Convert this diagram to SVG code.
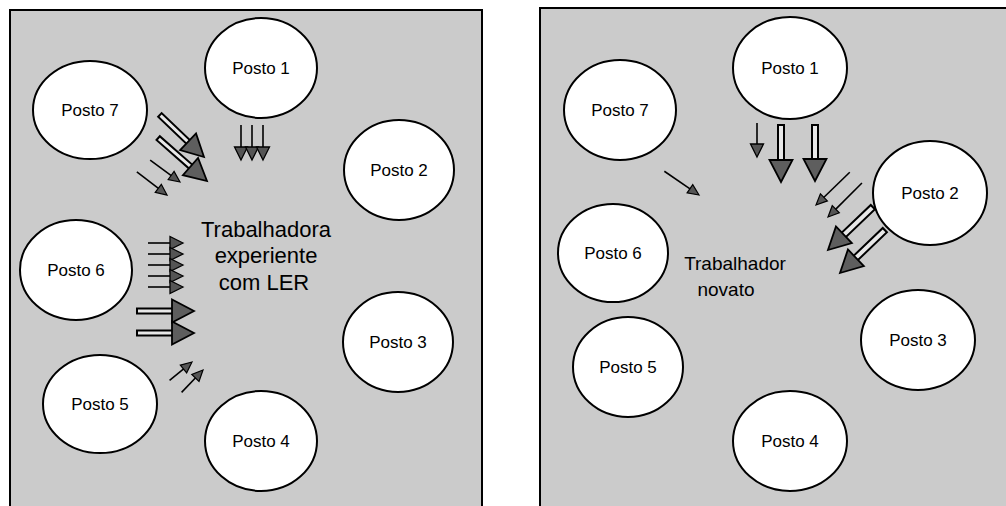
<svg xmlns="http://www.w3.org/2000/svg" width="1006" height="506" viewBox="0 0 1006 506">
  <style>
    .panel { fill: #cbcbcb; stroke: #000; stroke-width: 2; }
    .posto ellipse { fill: #fff; stroke: #000; stroke-width: 2; }
    .posto text { font-family: "Liberation Sans", Arial, sans-serif; font-size: 17px; text-anchor: middle; fill: #000; }
    .worker { font-family: "Liberation Sans", Arial, sans-serif; text-anchor: middle; fill: #000; }
    .shaft { stroke: #000; stroke-width: 1.6; fill: none; }
    .shaft-big { fill: #e8e8e8; stroke: #000; stroke-width: 2; }
  </style>
  <defs>
    <!-- arrowheads drawn pointing along +x, tip at the origin -->
    <polygon id="head-s" points="0,0 -11,-5 -11,5" fill="#555" stroke="#000" stroke-width="1.2"/>
    <polygon id="head-m" points="0,0 -13,-6.5 -13,6.5" fill="#555" stroke="#000" stroke-width="1.3"/>
    <polygon id="head-b" points="0,0 -22,-11.5 -22,11.5" fill="#5e5e5e" stroke="#000" stroke-width="1.8"/>
  </defs>

  <rect width="1006" height="506" fill="#fff"/>

  <!-- left panel: experienced worker -->
  <rect class="panel" x="10" y="10" width="472" height="500"/>
  <!-- right panel: new worker -->
  <rect class="panel" x="540" y="8" width="480" height="502"/>

  <!-- left panel workstations -->
  <g id="L-posto1" class="posto"><ellipse cx="261" cy="68" rx="56" ry="50"/><text x="261" y="74">Posto 1</text></g>
  <g id="L-posto2" class="posto"><ellipse cx="399" cy="170" rx="55" ry="50"/><text x="399" y="176">Posto 2</text></g>
  <g id="L-posto3" class="posto"><ellipse cx="398" cy="342" rx="55" ry="50"/><text x="398" y="348">Posto 3</text></g>
  <g id="L-posto4" class="posto"><ellipse cx="261" cy="441" rx="56" ry="50"/><text x="261" y="447">Posto 4</text></g>
  <g id="L-posto5" class="posto"><ellipse cx="100" cy="404" rx="57" ry="49"/><text x="100" y="410">Posto 5</text></g>
  <g id="L-posto6" class="posto"><ellipse cx="76" cy="270" rx="56" ry="50"/><text x="76" y="276">Posto 6</text></g>
  <g id="L-posto7" class="posto"><ellipse cx="90" cy="110" rx="57" ry="49"/><text x="90" y="116">Posto 7</text></g>

  <g id="L-worker">
    <text class="worker" font-size="22" x="266" y="237">Trabalhadora</text>
    <text class="worker" font-size="22" x="266" y="263">experiente</text>
    <text class="worker" font-size="22" x="264" y="290">com LER</text>
  </g>

  <!-- right panel workstations -->
  <g id="R-posto1" class="posto"><ellipse cx="790" cy="68" rx="57" ry="51"/><text x="790" y="74">Posto 1</text></g>
  <g id="R-posto2" class="posto"><ellipse cx="930" cy="193" rx="57" ry="52"/><text x="930" y="199">Posto 2</text></g>
  <g id="R-posto3" class="posto"><ellipse cx="918" cy="340" rx="57" ry="50"/><text x="918" y="346">Posto 3</text></g>
  <g id="R-posto4" class="posto"><ellipse cx="790" cy="441" rx="57" ry="50"/><text x="790" y="447">Posto 4</text></g>
  <g id="R-posto5" class="posto"><ellipse cx="628" cy="367" rx="55" ry="50"/><text x="628" y="373">Posto 5</text></g>
  <g id="R-posto6" class="posto"><ellipse cx="613" cy="253" rx="55" ry="49"/><text x="613" y="259">Posto 6</text></g>
  <g id="R-posto7" class="posto"><ellipse cx="620" cy="110" rx="56" ry="50"/><text x="620" y="116">Posto 7</text></g>

  <g id="R-worker">
    <text class="worker" font-size="19" x="735" y="270">Trabalhador</text>
    <text class="worker" font-size="19" x="726" y="296">novato</text>
  </g>

  <!-- movement arrows towards the worker -->
  <g id="connectors">
    <!-- left: from Posto 1 -->
    <g transform="translate(241,160) rotate(90)"><line class="shaft" x1="-35" y1="0" x2="-12" y2="0"/><use href="#head-m"/></g>
    <g transform="translate(252,160) rotate(90)"><line class="shaft" x1="-35" y1="0" x2="-12" y2="0"/><use href="#head-m"/></g>
    <g transform="translate(263,160) rotate(90)"><line class="shaft" x1="-35" y1="0" x2="-12" y2="0"/><use href="#head-m"/></g>

    <!-- left: from Posto 7 -->
    <g transform="translate(204,157) rotate(43.7)"><rect class="shaft-big" x="-61" y="-2.5" width="40" height="5"/><use href="#head-b"/></g>
    <g transform="translate(207,181) rotate(41.3)"><rect class="shaft-big" x="-65" y="-2.5" width="44" height="5"/><use href="#head-b"/></g>
    <g transform="translate(180,182) rotate(36.3)"><line class="shaft" x1="-37" y1="0" x2="-10" y2="0"/><use href="#head-s"/></g>
    <g transform="translate(167,195) rotate(37.5)"><line class="shaft" x1="-38" y1="0" x2="-10" y2="0"/><use href="#head-s"/></g>

    <!-- left: from Posto 6 -->
    <g transform="translate(183,243)"><line class="shaft" x1="-35" y1="0" x2="-12" y2="0"/><use href="#head-m"/></g>
    <g transform="translate(183,254)"><line class="shaft" x1="-35" y1="0" x2="-12" y2="0"/><use href="#head-m"/></g>
    <g transform="translate(183,265)"><line class="shaft" x1="-35" y1="0" x2="-12" y2="0"/><use href="#head-m"/></g>
    <g transform="translate(183,276)"><line class="shaft" x1="-35" y1="0" x2="-12" y2="0"/><use href="#head-m"/></g>
    <g transform="translate(183,287)"><line class="shaft" x1="-35" y1="0" x2="-12" y2="0"/><use href="#head-m"/></g>
    <g transform="translate(194,311)"><rect class="shaft-big" x="-57" y="-2.5" width="36" height="5"/><use href="#head-b"/></g>
    <g transform="translate(194,333)"><rect class="shaft-big" x="-57" y="-2.5" width="36" height="5"/><use href="#head-b"/></g>

    <!-- left: from Posto 5 -->
    <g transform="translate(192,362) rotate(-39.3)"><line class="shaft" x1="-29" y1="0" x2="-10" y2="0"/><use href="#head-s"/></g>
    <g transform="translate(203,370) rotate(-46.3)"><line class="shaft" x1="-31" y1="0" x2="-10" y2="0"/><use href="#head-s"/></g>

    <!-- right: from Posto 1 -->
    <g transform="translate(757,157) rotate(90)"><line class="shaft" x1="-34" y1="0" x2="-12" y2="0"/><use href="#head-m"/></g>
    <g transform="translate(781,182) rotate(90)"><rect class="shaft-big" x="-57" y="-3" width="36" height="6"/><use href="#head-b"/></g>
    <g transform="translate(815,181) rotate(90)"><rect class="shaft-big" x="-56" y="-3" width="35" height="6"/><use href="#head-b"/></g>

    <!-- right: from Posto 2 -->
    <g transform="translate(816,205) rotate(135.9)"><line class="shaft" x1="-47" y1="0" x2="-10" y2="0"/><use href="#head-s"/></g>
    <g transform="translate(828,217) rotate(135)"><line class="shaft" x1="-48" y1="0" x2="-10" y2="0"/><use href="#head-s"/></g>
    <g transform="translate(828,250) rotate(136.3)"><rect class="shaft-big" x="-62" y="-3" width="41" height="6"/><use href="#head-b"/></g>
    <g transform="translate(840,273) rotate(136.3)"><rect class="shaft-big" x="-62" y="-3" width="41" height="6"/><use href="#head-b"/></g>

    <!-- right: from Posto 7 -->
    <g transform="translate(699,195) rotate(34.4)"><line class="shaft" x1="-42" y1="0" x2="-10" y2="0"/><use href="#head-s"/></g>
  </g>
</svg>
